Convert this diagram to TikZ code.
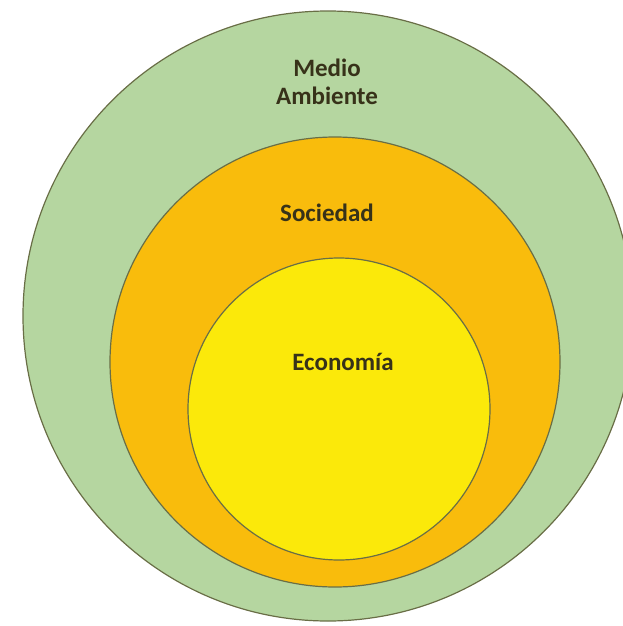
\documentclass[tikz,border=0pt]{standalone}
\usepackage{fontspec}
\setmainfont{Carlito}
\usepackage{xcolor}
\usetikzlibrary{positioning}

\definecolor{verde}{RGB}{181,214,160}
\definecolor{naranja}{RGB}{249,188,12}
\definecolor{amarillo}{RGB}{251,233,10}
\definecolor{borde}{RGB}{105,110,70}
\definecolor{texto}{RGB}{55,50,25}

\begin{document}
\begin{tikzpicture}[
            x=1pt, y=-1pt,
            ring/.style={circle, draw=borde, line width=1.2pt, inner sep=0pt},
            label/.style={text=texto, font=\fontsize{25}{28}\selectfont\bfseries, align=center}
        ]
        \useasboundingbox (0,0) rectangle (623,626);
        \clip (0,0) rectangle (623,626);

        % Circulos
        \node[ring, fill=verde, minimum size=610pt] (medio) at (328,316) {};
        \node[ring, fill=naranja, minimum size=450pt] (sociedad) at (335,362) {};
        \node[ring, fill=amarillo, minimum size=302pt] (economia) at (339,409) {};

        % Textos
        \node[label] (medio_txt) at (327,82) {Medio\\Ambiente};
        \node[label] (sociedad_txt) at (327,213) {Sociedad};
        \node[label] (economia_txt) at (343,362) {Economía};
    \end{tikzpicture}
\end{document}
